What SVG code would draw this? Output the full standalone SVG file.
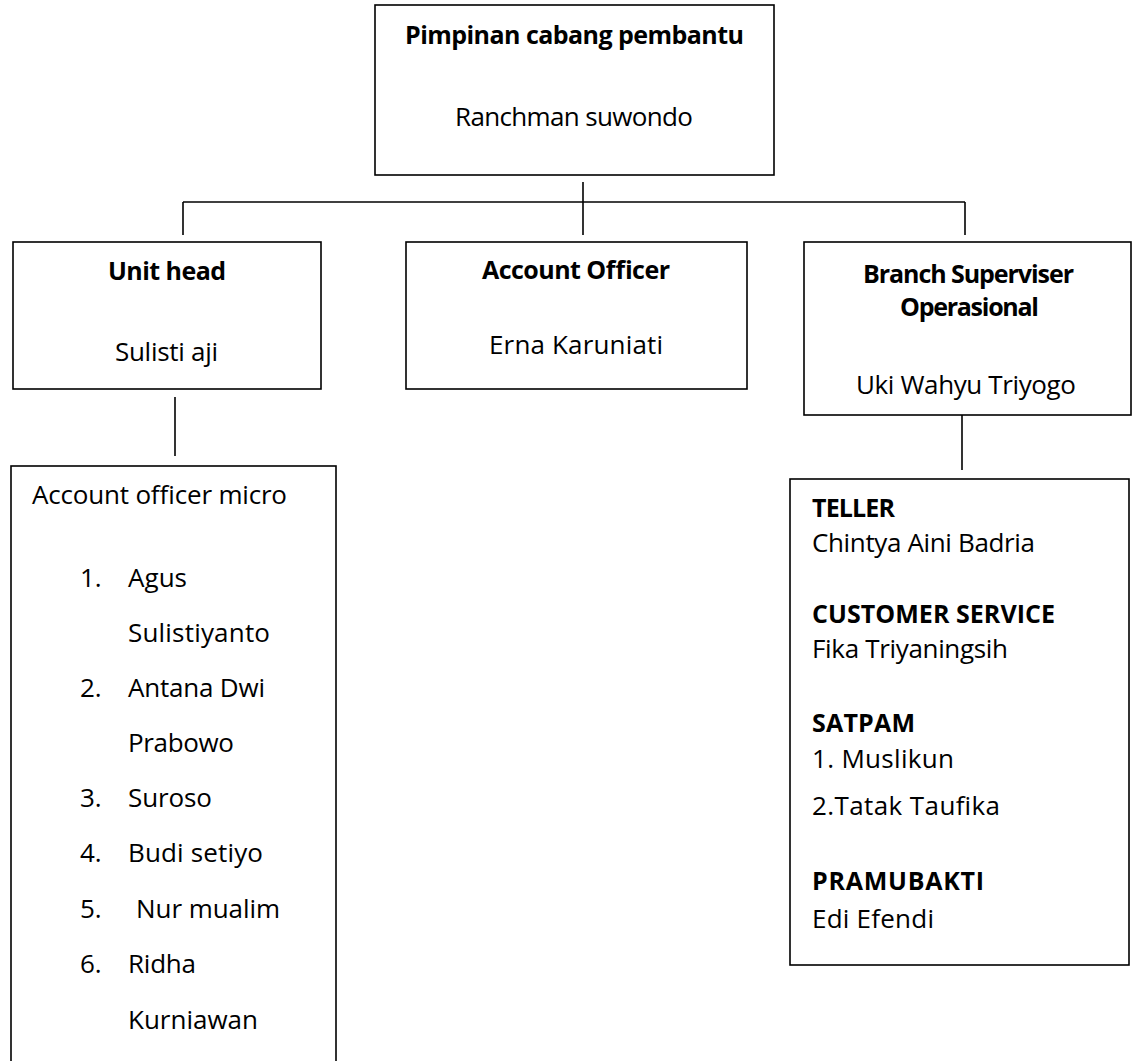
<svg xmlns="http://www.w3.org/2000/svg" width="1135" height="1061" viewBox="0 0 1135 1061">
<style>
  .box { fill: #ffffff; stroke: #000000; stroke-width: 1.6; }
  .line { fill: none; stroke: #000000; stroke-width: 1.6; }
  text { font-family: "Open Sans", "Liberation Sans", sans-serif; font-size: 26px; fill: #000000; }
  .b { font-weight: bold; font-size: 25px; }
  .c { text-anchor: middle; }
</style>
<rect width="1135" height="1061" fill="#ffffff"/>
<g id="connectors">
  <line class="line" x1="583" y1="182" x2="583" y2="235"/>
  <line class="line" x1="183" y1="202" x2="965" y2="202"/>
  <line class="line" x1="183" y1="202" x2="183" y2="235"/>
  <line class="line" x1="965" y1="202" x2="965" y2="235"/>
  <line class="line" x1="175" y1="397" x2="175" y2="456"/>
  <line class="line" x1="962" y1="415" x2="962" y2="470"/>
</g>
<g id="pimpinan">
  <rect class="box" x="375" y="5" width="399" height="170"/>
  <text class="b c" x="574.5" y="44" textLength="339">Pimpinan cabang pembantu</text>
  <text class="c" x="574" y="126" textLength="238">Ranchman suwondo</text>
</g>
<g id="unit-head">
  <rect class="box" x="13" y="242" width="308" height="147"/>
  <text class="b c" x="167" y="280" textLength="118">Unit head</text>
  <text class="c" x="166.5" y="361" textLength="103">Sulisti aji</text>
</g>
<g id="account-officer">
  <rect class="box" x="406" y="242" width="341" height="147"/>
  <text class="b c" x="576" y="279" textLength="188">Account Officer</text>
  <text class="c" x="576" y="354" textLength="174">Erna Karuniati</text>
</g>
<g id="branch-superviser">
  <rect class="box" x="804" y="242" width="327" height="173"/>
  <text class="b c" x="968.5" y="283" textLength="211">Branch Superviser</text>
  <text class="b c" x="969.5" y="316" textLength="139">Operasional</text>
  <text class="c" x="966" y="394" textLength="220">Uki Wahyu Triyogo</text>
</g>
<g id="account-officer-micro">
  <rect class="box" x="11" y="466" width="325" height="620"/>
  <text x="32" y="504" textLength="255">Account officer micro</text>
  <text x="80" y="587">1.</text><text x="128" y="587" textLength="59">Agus</text>
  <text x="128" y="642" textLength="142">Sulistiyanto</text>
  <text x="80" y="697">2.</text><text x="128" y="697" textLength="137">Antana Dwi</text>
  <text x="128" y="752" textLength="106">Prabowo</text>
  <text x="80" y="807">3.</text><text x="128" y="807" textLength="84">Suroso</text>
  <text x="80" y="862">4.</text><text x="128" y="862" textLength="135">Budi setiyo</text>
  <text x="80" y="918">5.</text><text x="136" y="918" textLength="144">Nur mualim</text>
  <text x="80" y="973">6.</text><text x="128" y="973" textLength="68">Ridha</text>
  <text x="128" y="1029" textLength="130">Kurniawan</text>
</g>
<g id="operasional-staff">
  <rect class="box" x="790" y="479" width="339" height="486"/>
  <text class="b" x="812" y="517" textLength="83">TELLER</text>
  <text x="812" y="552" textLength="223">Chintya Aini Badria</text>
  <text class="b" x="812" y="623" textLength="243">CUSTOMER SERVICE</text>
  <text x="812" y="658" textLength="196">Fika Triyaningsih</text>
  <text class="b" x="812" y="732" textLength="103">SATPAM</text>
  <text x="812" y="768" textLength="142">1. Muslikun</text>
  <text x="812" y="815" textLength="188">2.Tatak Taufika</text>
  <text class="b" x="812" y="890" textLength="172">PRAMUBAKTI</text>
  <text x="812" y="928" textLength="122">Edi Efendi</text>
</g>
</svg>
